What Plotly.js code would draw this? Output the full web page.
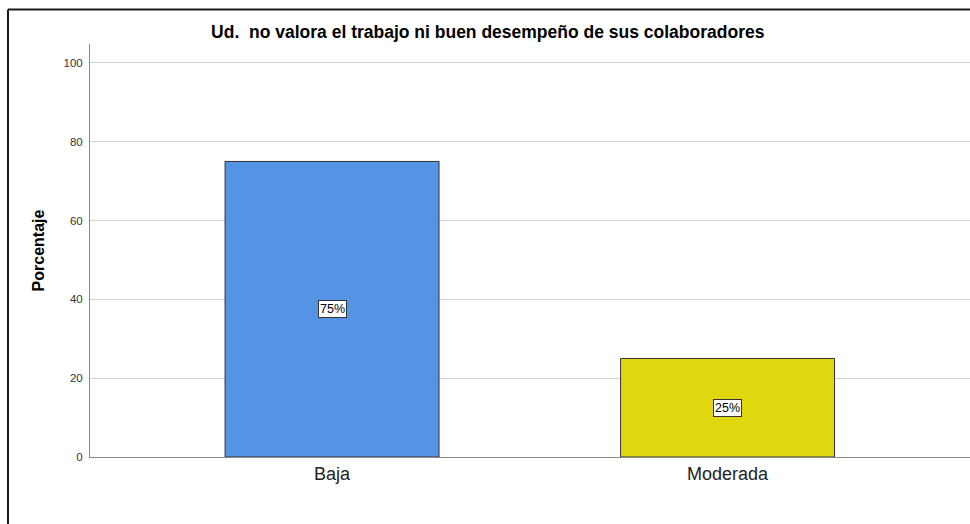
<!DOCTYPE html>
<html>
<head>
<meta charset="utf-8">
<script src="https://cdn.plot.ly/plotly-3.0.1.min.js"></script>
<style>html,body{margin:0;padding:0;background:#fff;}#chart{width:970px;height:524px;}</style>
</head>
<body>
<div id="chart"></div>
<script>
const categories = ["Baja", "Moderada"];
const percentages = [75, 25];
const barLabels = ["75%", "25%"];
const barColors = ["#5594E4", "#E1D70E"];
const yTicks = [0, 20, 40, 60, 80, 100];

const trace = {
  type: "bar",
  x: categories,
  y: percentages,
  width: 0.541,
  marker: {color: barColors, line: {color: "#333333", width: 1}},
  hoverinfo: "none"
};

const annotations = categories.map((c, i) => ({
  x: c, y: percentages[i] / 2, xref: "x", yref: "y",
  text: barLabels[i], showarrow: false,
  font: {family: "Arial, Liberation Sans, sans-serif", size: 12.5, color: "#000"},
  bgcolor: "#ffffff", bordercolor: "#333333", borderwidth: 1, borderpad: 1
}));

const layout = {
  width: 970, height: 524,
  margin: {l: 90, r: 0, t: 44, b: 67},
  paper_bgcolor: "#ffffff", plot_bgcolor: "#ffffff",
  showlegend: false,
  title: {
    text: "<b>Ud.\u00a0 no valora el trabajo ni buen desempeño de sus colaboradores</b>",
    font: {family: "Arial, Liberation Sans, sans-serif", size: 17.5, color: "#000"},
    x: 0.452, xref: "paper", xanchor: "center", y: 1 - 32/524, yref: "container", yanchor: "middle"
  },
  xaxis: {
    type: "category",
    range: [-0.612, 1.613],
    showgrid: false, zeroline: false,
    showline: true, linecolor: "#8a8a8a", linewidth: 1,
    ticks: "",
    tickfont: {family: "Arial, Liberation Sans, sans-serif", size: 18, color: "#222"},
    fixedrange: true
  },
  yaxis: {
    range: [0, 104.8],
    tickvals: yTicks,
    ticktext: yTicks.map(String),
    showgrid: true, gridcolor: "#d3d3d3", gridwidth: 1,
    zeroline: false,
    showline: true, linecolor: "#8a8a8a", linewidth: 1,
    ticks: "",
    ticklabelstandoff: 4,
    tickfont: {family: "Arial, Liberation Sans, sans-serif", size: 11.5, color: "#333"},
    title: {text: "<b>Porcentaje</b>", font: {family: "Arial, Liberation Sans, sans-serif", size: 16, color: "#000"}, standoff: 14},
    fixedrange: true
  },
  annotations: annotations,
  shapes: [
    {type: "line", xref: "paper", yref: "paper", x0: -0.0932, x1: 1.01, y0: 1.0835, y1: 1.0835, line: {color: "#1a1a1a", width: 2}},
    {type: "line", xref: "paper", yref: "paper", x0: -0.0932, x1: -0.0932, y0: 1.0835, y1: -0.17, line: {color: "#1a1a1a", width: 2}}
  ]
};

Plotly.newPlot("chart", [trace], layout, {displayModeBar: false, staticPlot: true});
</script>
</body>
</html>
